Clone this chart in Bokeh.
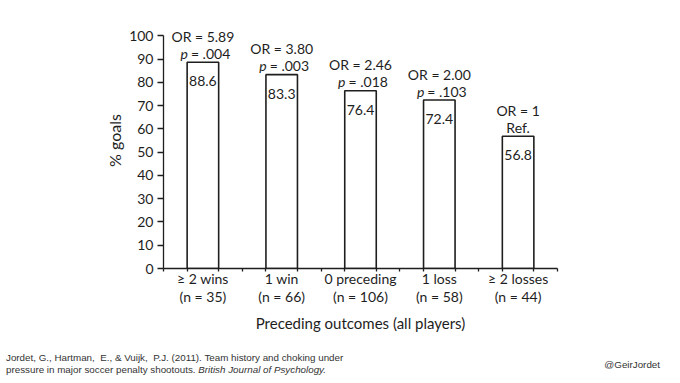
from bokeh.plotting import figure
from bokeh.layouts import column
from bokeh.models import ColumnDataSource, FixedTicker, Range1d, LabelSet, Div
from bokeh.core.properties import value
from bokeh.embed import file_html
from bokeh.resources import INLINE

# ---- data ----
outcomes = ["\u2265 2 wins", "1 win", "0 preceding", "1 loss", "\u2265 2 losses"]
n_values = [35, 66, 106, 58, 44]
pct_goals = [88.6, 83.3, 76.4, 72.4, 56.8]
odds_labels = ["OR = 5.89", "OR = 3.80", "OR = 2.46", "OR = 2.00", "OR = 1"]
p_labels = ["p = .004", "p = .003", "p = .018", "p = .103", "Ref."]
y_ticks = [0, 10, 20, 30, 40, 50, 60, 70, 80, 90, 100]

citation_1 = "Jordet, G., Hartman,&nbsp; E., &amp; Vuijk,&nbsp; P.J. (2011). Team history and choking under"
citation_2 = "pressure in major soccer penalty shootouts."
citation_journal = "British Journal of Psychology."
handle = "@GeirJordet"

FONT = "Lato"
INK = "#1e1e1e"
BAR_W = 0.4

# geometry (pixels)
W, H_MAIN, H_FOOT = 672, 340, 38
F_LEFT, F_RIGHT, F_TOP, F_BOTTOM = 163, 557, 12, 268
Y_MAX = 110

xs = [i + 0.5 for i in range(len(outcomes))]
tick_text = {x: f"{o}\n(n = {n})" for x, o, n in zip(xs, outcomes, n_values)}

has_p = [s.startswith("p = ") for s in p_labels]
src = ColumnDataSource(dict(
    x=xs, top=pct_goals,
    val=[f"{v:.1f}" for v in pct_goals],
    orl=odds_labels,
))
src_p = ColumnDataSource(dict(
    x=[x for x, h in zip(xs, has_p) if h],
    top=[t for t, h in zip(pct_goals, has_p) if h],
    pp=["p" for h in has_p if h],
    rest=[s[2:] for s, h in zip(p_labels, has_p) if h],
))
src_ref = ColumnDataSource(dict(
    x=[x for x, h in zip(xs, has_p) if not h],
    top=[t for t, h in zip(pct_goals, has_p) if not h],
    txt=[s for s, h in zip(p_labels, has_p) if not h],
))

p = figure(width=W, height=H_MAIN, output_backend="svg", toolbar_location=None,
           x_range=Range1d(0, len(outcomes)), y_range=Range1d(0, Y_MAX),
           min_border_left=F_LEFT, min_border_right=W - F_RIGHT,
           min_border_top=F_TOP, min_border_bottom=H_MAIN - F_BOTTOM)
p.outline_line_color = None
p.grid.grid_line_color = None
p.background_fill_color = "white"
p.border_fill_color = "white"

p.vbar(x="x", top="top", width=BAR_W, bottom=0, source=src,
       fill_color="white", line_color=INK, line_width=1.6)

common = dict(text_baseline="middle", text_font=value(FONT),
              text_font_size="14px", text_color=INK)
p.add_layout(LabelSet(x="x", y="top", text="orl", source=src, y_offset=26,
                      text_align="center", **common))
p.add_layout(LabelSet(x="x", y="top", text="val", source=src, y_offset=-19,
                      text_align="center", **common))
p.add_layout(LabelSet(x="x", y="top", text="pp", source=src_p, y_offset=9,
                      x_offset=-15, text_align="right", text_font_style="italic",
                      **common))
p.add_layout(LabelSet(x="x", y="top", text="rest", source=src_p, y_offset=9,
                      x_offset=-12, text_align="left", **common))
p.add_layout(LabelSet(x="x", y="top", text="txt", source=src_ref, y_offset=9,
                      text_align="center", **common))

# y axis
ya = p.yaxis[0]
ya.ticker = FixedTicker(ticks=y_ticks)
ya.bounds = (0, 100)
ya.axis_label = "% goals"
ya.axis_label_text_font = FONT
ya.axis_label_text_font_size = "16px"
ya.axis_label_text_font_style = "normal"
ya.axis_label_text_color = INK
ya.axis_label_standoff = 2
ya.major_label_text_font = FONT
ya.major_label_text_font_size = "14px"
ya.major_label_text_color = INK
ya.major_label_standoff = 4
ya.major_tick_in = 0
ya.major_tick_out = 6
ya.minor_tick_line_color = None
ya.axis_line_color = INK
ya.axis_line_width = 1.3
ya.major_tick_line_color = INK
ya.major_tick_line_width = 1.3

# x axis
edges = [x + s * BAR_W / 2 for x in xs for s in (-1, 1)]
xa = p.xaxis[0]
xa.ticker = FixedTicker(ticks=xs, minor_ticks=list(range(len(outcomes) + 1)) + edges)
xa.major_label_overrides = tick_text
xa.major_tick_line_color = None
xa.minor_tick_in = 0
xa.minor_tick_out = 3
xa.minor_tick_line_color = INK
xa.minor_tick_line_width = 1.3
xa.axis_line_color = INK
xa.axis_line_width = 1.3
xa.major_label_text_font = FONT
xa.major_label_text_font_size = "14px"
xa.major_label_text_color = INK
xa.major_label_text_line_height = 1.1
xa.major_label_standoff = -5
xa.axis_label = "Preceding outcomes (all players)"
xa.axis_label_text_font = FONT
xa.axis_label_text_font_size = "15px"
xa.axis_label_text_font_style = "normal"
xa.axis_label_text_color = INK
xa.axis_label_standoff = 6

# footer: citation (with italic journal name) and handle
footer_html = (
    f'<div style="position:relative;width:{W}px;height:{H_FOOT}px;'
    'font-family:\'Liberation Sans\',Arial,sans-serif;font-size:9.8px;'
    'color:#333333;line-height:12px;white-space:nowrap">'
    f'<div style="position:absolute;left:6px;top:12px">{citation_1}<br>'
    f'{citation_2} <i>{citation_journal}</i></div>'
    f'<div style="position:absolute;right:12px;top:19px">{handle}</div>'
    '</div>'
)
foot = Div(text=footer_html, width=W, height=H_FOOT, margin=0)

layout = column(p, foot, spacing=0)
open("out.html", "w").write(file_html(layout, INLINE))
